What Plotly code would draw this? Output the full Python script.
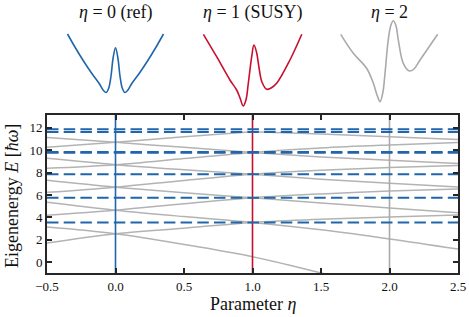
import plotly.graph_objects as go

# ---------------- data ----------------
eta_grid = [-0.5, 0.0, 0.5, 1.0, 1.5, 2.0, 2.5]

# rising branches
R0 = [1.72, 2.55, 3.05, 3.56, 3.85, 4.05, 4.22]
R1 = [4.20, 4.65, 5.22, 5.76, 6.10, 6.35, 6.53]
R2 = [6.24, 6.70, 7.30, 7.85, 8.20, 8.45, 8.64]
R3 = [8.38, 8.70, 9.25, 9.80, 10.20, 10.47, 10.69]
R4 = [10.25, 10.70, 11.20, 11.64, None, None, None]
# falling branches
F0 = [3.15, 2.55, 1.60, 0.50, -0.95, -2.60, -4.40]
F1 = [5.35, 4.65, 4.08, 3.56, 2.90, 2.09, 1.19]
F2 = [7.31, 6.70, 6.20, 5.76, 5.30, 4.85, 4.42]
F3 = [9.27, 8.70, 8.25, 7.85, 7.40, 7.05, 6.71]
F4 = [11.14, 10.70, 10.25, 9.80, 9.40, 9.10, 8.82]
F5 = [None, None, None, 11.64, 11.45, 11.20, 10.96]
gray_branches = [R0, R1, R2, R3, R4, F0, F1, F2, F3, F4, F5]

# reference (SUSY) levels, dashed
ref_levels = [3.56, 5.76, 7.85, 9.77, 9.83, 11.62, 11.86]

# marked parameter values
marked_eta = [0.0, 1.0, 2.0]
marked_colors = ["#2166ac", "#c8102e", "#aaaaaa"]
titles = ["<i>η</i> = 0 (ref)", "<i>η</i> = 1 (SUSY)", "<i>η</i> = 2"]

# inset potentials (position, potential)
pot_x_0 = [-3, -2.5, -2, -1.5, -1, -0.75, -0.58, -0.42, -0.28, -0.15, 0, 0.15, 0.28, 0.42, 0.58, 0.75, 1, 1.5, 2, 2.5, 3]
pot_v_0 = [6.1, 4.7, 3.4, 2.2, 1.1, 0.45, 0.25, 0.7, 1.9, 3.7, 4.73, 3.7, 1.9, 0.7, 0.25, 0.45, 1.1, 2.2, 3.4, 4.7, 6.1]

pot_x_1 = [-3.07, -2.24, -1.41, -0.99, -0.78, -0.58, -0.41, -0.26, -0.05, 0.09, 0.25, 0.41, 0.59, 0.89, 1.16, 1.51, 2.34, 3.08]
pot_v_1 = [6.07, 3.83, 1.5, 0.5, -0.3, -1.1, -0.5, 1.2, 3.83, 5.0, 4.3, 2.7, 1.3, 0.57, 0.7, 1.17, 3.5, 6.07]

pot_x_2 = [-3.05, -2.26, -1.43, -1.01, -0.78, -0.59, -0.41, -0.28, -0.08, 0.09, 0.24, 0.41, 0.55, 0.86, 1.24, 1.53, 1.91, 3.01]
pot_v_2 = [6.07, 4.17, 2.67, 1.17, 0.0, -0.67, 0.3, 2.17, 5.5, 7.0, 7.43, 6.9, 5.5, 3.17, 2.4, 2.6, 3.5, 6.07]

insets = [(pot_x_0, pot_v_0), (pot_x_1, pot_v_1), (pot_x_2, pot_v_2)]

# ---------------- layout geometry ----------------
W, H = 469, 317
ML, MR, MT, MB = 47, 11, 0, 44
PW = W - ML - MR
PH = H - MT - MB
main_top_px = 114.5
main_ydom = [0, (PH - main_top_px) / PH]

def px_to_fx(px):
    return (px - ML) / PW

def px_to_fy(py):
    return (PH - py) / PH

FONT = "Liberation Serif"
AX_COLOR = "#262626"

fig = go.Figure()

# gray branches
for br in gray_branches:
    xs = [e for e, v in zip(eta_grid, br) if v is not None]
    ys = [v for v in br if v is not None]
    fig.add_trace(go.Scatter(x=xs, y=ys, mode="lines", line=dict(color="#b3b3b3", width=1.5, shape="spline"),
                             showlegend=False, hoverinfo="skip"))

# vertical marker lines
for e, c in zip(marked_eta, marked_colors):
    fig.add_trace(go.Scatter(x=[e, e], y=[-5, 20], mode="lines", line=dict(color=c, width=1.6),
                             showlegend=False, hoverinfo="skip"))

# dashed reference levels
for lv in ref_levels:
    fig.add_trace(go.Scatter(x=[eta_grid[0], eta_grid[-1]], y=[lv, lv], mode="lines",
                             line=dict(color="#2166ac", width=2, dash="11.5px,5.2px"),
                             showlegend=False, hoverinfo="skip"))

# insets
half_w = 51.2
for k, ((px_, pv_), e, c) in enumerate(zip(insets, marked_eta, marked_colors)):
    cx = ML + (e - (-0.5)) / 3.0 * PW
    xa = "xaxis%d" % (k + 2)
    ya = "yaxis%d" % (k + 2)
    fig.add_trace(go.Scatter(x=px_, y=pv_, mode="lines", line=dict(color=c, width=1.6, shape="spline"),
                             xaxis="x%d" % (k + 2), yaxis="y%d" % (k + 2),
                             showlegend=False, hoverinfo="skip"))
    fig.layout[xa] = dict(domain=[px_to_fx(cx - half_w), px_to_fx(cx + half_w)], range=[-3.2, 3.2],
                          visible=False, anchor="y%d" % (k + 2))
    fig.layout[ya] = dict(domain=[px_to_fy(111), px_to_fy(13)], range=[-1.6, 8.2],
                          visible=False, anchor="x%d" % (k + 2))
    fig.add_annotation(x=e, xref="x", y=px_to_fy(12.5), yref="paper", text=titles[k], showarrow=False,
                       font=dict(family=FONT, size=18, color="#111"), xanchor="center", yanchor="middle")

fig.update_layout(
    width=W, height=H, margin=dict(l=ML, r=MR, t=MT, b=MB),
    paper_bgcolor="white", plot_bgcolor="white",
    xaxis=dict(range=[-0.5, 2.5], tickvals=[-0.5, 0, 0.5, 1.0, 1.5, 2.0, 2.5],
               ticktext=["−0.5", "0.0", "0.5", "1.0", "1.5", "2.0", "2.5"],
               ticks="inside", ticklen=5, tickwidth=2, tickcolor=AX_COLOR,
               showline=True, linewidth=2, linecolor=AX_COLOR, mirror="ticks",
               showgrid=False, zeroline=False, tickfont=dict(family=FONT, size=13, color="#111"),
               anchor="y"),
    yaxis=dict(domain=main_ydom, range=[-0.95, 13.18], tickvals=[0, 2, 4, 6, 8, 10, 12],
               ticks="inside", ticklen=5, tickwidth=2, tickcolor=AX_COLOR,
               showline=True, linewidth=2, linecolor=AX_COLOR, mirror="ticks",
               showgrid=False, zeroline=False, tickfont=dict(family=FONT, size=13, color="#111"),
               anchor="x"),
)

fig.add_annotation(x=1.0, xref="x", y=px_to_fy(304), yref="paper", text="Parameter <i>η</i>",
                   showarrow=False, font=dict(family=FONT, size=18, color="#111"),
                   xanchor="center", yanchor="middle")
fig.add_annotation(x=px_to_fx(12), xref="paper", y=px_to_fy(196), yref="paper",
                   text="Eigenenergy <i>E</i> [<i>ħω</i>]", textangle=-90,
                   showarrow=False, font=dict(family=FONT, size=18, color="#111"),
                   xanchor="center", yanchor="middle")

fig.write_html("out.html", config={"displayModeBar": False},
               post_script="document.body.style.margin='0px';document.body.style.padding='0px';")
